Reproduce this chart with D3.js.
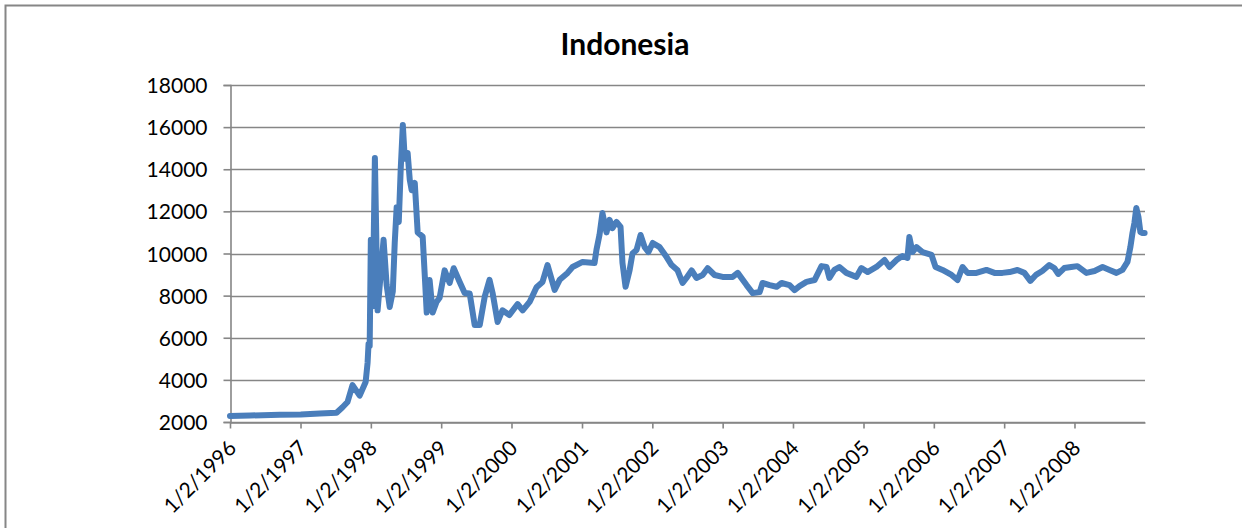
<!DOCTYPE html>
<html>
<head>
<meta charset="utf-8">
<script src="https://cdn.jsdelivr.net/npm/d3@7"></script>
<style>
  html, body { margin: 0; padding: 0; background: #fff; }
  svg { display: block; }
  text { font-family: Lato, "Open Sans", "Liberation Sans", sans-serif; fill: #000; }
</style>
</head>
<body>
<svg id="chart" width="1242" height="528"></svg>
<script>
// Indonesian rupiah per US dollar, 1996-2008
const chartTitle = "Indonesia";

const dates = [
  "1996-01-02","1996-04-15","1996-09-16","1997-01-03","1997-04-12","1997-07-08",
  "1997-08-08","1997-09-03","1997-09-29","1997-11-05","1997-12-06","1997-12-16",
  "1997-12-21","1997-12-27","1998-01-02","1998-01-12","1998-01-23","1998-02-06",
  "1998-02-22","1998-03-09","1998-03-25","1998-04-10","1998-04-26","1998-05-06",
  "1998-05-16","1998-05-27","1998-06-06","1998-06-17","1998-06-27","1998-07-12",
  "1998-07-23","1998-08-02","1998-08-18","1998-09-02","1998-09-28","1998-10-08",
  "1998-10-19","1998-11-03","1998-11-19","1998-12-09","1998-12-25","1999-01-20",
  "1999-02-15","1999-03-08","1999-04-08","1999-05-04","1999-05-30","1999-06-25",
  "1999-07-21","1999-08-16","1999-09-10","1999-09-26","1999-10-22","1999-11-16",
  "1999-12-22","2000-02-03","2000-02-29","2000-04-05","2000-05-11","2000-06-11",
  "2000-07-07","2000-08-13","2000-09-08","2000-10-19","2000-11-14","2001-01-05",
  "2001-03-08","2001-03-18","2001-04-03","2001-04-18","2001-05-09","2001-05-25",
  "2001-06-09","2001-06-30","2001-07-21","2001-07-31","2001-08-16","2001-09-06",
  "2001-09-21","2001-10-12","2001-11-02","2001-11-23","2001-12-13","2002-01-04",
  "2002-02-09","2002-03-17","2002-04-12","2002-05-13","2002-06-08","2002-06-28",
  "2002-07-25","2002-08-19","2002-09-20","2002-10-16","2002-11-21","2003-01-02",
  "2003-02-23","2003-03-21","2003-05-06","2003-06-07","2003-07-13","2003-07-28",
  "2003-09-03","2003-10-09","2003-11-04","2003-12-15","2004-01-10","2004-02-05",
  "2004-03-12","2004-04-23","2004-05-29","2004-06-24","2004-07-09","2004-08-04",
  "2004-08-30","2004-10-05","2004-11-26","2004-12-22","2005-01-23","2005-03-10",
  "2005-04-21","2005-05-17","2005-06-22","2005-07-23","2005-08-18","2005-08-28",
  "2005-09-13","2005-10-04","2005-11-04","2005-12-21","2006-01-11","2006-02-16",
  "2006-04-04","2006-05-05","2006-05-31","2006-06-26","2006-08-11","2006-10-02",
  "2006-11-13","2006-12-24","2007-01-30","2007-03-12","2007-04-17","2007-05-18",
  "2007-06-18","2007-07-19","2007-08-24","2007-09-19","2007-10-10","2007-11-10",
  "2007-12-16","2008-01-17","2008-03-04","2008-04-15","2008-05-27","2008-07-02",
  "2008-08-07","2008-09-07","2008-10-03","2008-10-18","2008-10-29","2008-11-08",
  "2008-11-18","2008-11-29","2008-12-09","2008-12-20","2008-12-31"
];

const rates = [
  2290, 2310, 2340, 2360, 2400, 2440,
  2700, 2950, 3750, 3250, 3900, 4800,
  5700, 5600, 10650, 7500, 14530, 7300,
  9000, 10650, 8500, 7460, 8200, 10500,
  12200, 11500, 14000, 16100, 14500, 14770,
  13500, 13000, 13350, 11000, 10800, 9100,
  7200, 8740, 7200, 7700, 7900, 9200,
  8600, 9300, 8650, 8120, 8100, 6600,
  6600, 7950, 8750, 8120, 6750, 7300,
  7080, 7600, 7300, 7700, 8400, 8650,
  9450, 8270, 8750, 9080, 9360, 9600,
  9550, 10170, 10900, 11920, 11000, 11600,
  11200, 11500, 11260, 9550, 8420, 9200,
  10000, 10170, 10880, 10300, 10070, 10500,
  10300, 9830, 9450, 9200, 8600, 8840,
  9200, 8840, 8980, 9300, 8980, 8890,
  8890, 9080, 8500, 8120, 8170, 8600,
  8500, 8420, 8600, 8500, 8260, 8450,
  8650, 8740, 9400, 9360, 8840, 9220,
  9360, 9080, 8890, 9310, 9120, 9360,
  9690, 9360, 9690, 9880, 9790, 10780,
  10070, 10300, 10070, 9930, 9360, 9220,
  8980, 8740, 9360, 9080, 9080, 9220,
  9080, 9080, 9120, 9220, 9080, 8700,
  9000, 9170, 9450, 9310, 9030, 9310,
  9360, 9400, 9080, 9170, 9360, 9220,
  9080, 9220, 9600, 10300, 10970, 11450,
  12160, 11740, 11020, 10970, 10970
];

const yTicks = [2000, 4000, 6000, 8000, 10000, 12000, 14000, 16000, 18000];
const xTickDates = ["1996-01-02","1997-01-02","1998-01-02","1999-01-02","2000-01-02",
  "2001-01-02","2002-01-02","2003-01-02","2004-01-02","2005-01-02","2006-01-02",
  "2007-01-02","2008-01-02"];
const xTickLabels = ["1/2/1996","1/2/1997","1/2/1998","1/2/1999","1/2/2000",
  "1/2/2001","1/2/2002","1/2/2003","1/2/2004","1/2/2005","1/2/2006",
  "1/2/2007","1/2/2008"];

const parse = d3.utcParse("%Y-%m-%d");
const series = dates.map((d, i) => ({ date: parse(d), value: rates[i] }));

const svg = d3.select("#chart");
const W = 1242, H = 528;
const plot = { left: 230, right: 1145, top: 85, bottom: 422 };
const gridColor = "#868686";

// outer chart frame (left and top edges fall inside the view)
svg.append("path")
  .attr("d", `M5.5,${H} L5.5,5.5 L${W},5.5`)
  .attr("fill", "none")
  .attr("stroke", gridColor)
  .attr("stroke-width", 2);

const x = d3.scaleUtc()
  .domain([parse("1996-01-02"), parse("2009-01-02")])
  .range([plot.left, plot.right]);

const y = d3.scaleLinear()
  .domain([2000, 18000])
  .range([plot.bottom, plot.top]);

// horizontal gridlines
svg.append("g")
  .selectAll("line")
  .data(yTicks)
  .join("line")
  .attr("x1", plot.left)
  .attr("x2", plot.right)
  .attr("y1", d => Math.round(y(d)) + 0.5)
  .attr("y2", d => Math.round(y(d)) + 0.5)
  .attr("stroke", gridColor)
  .attr("stroke-width", 1.6);

// y axis
const yAxis = d3.axisLeft(y)
  .tickValues(yTicks)
  .tickFormat(d3.format("d"))
  .tickSize(7)
  .tickPadding(16);

const gy = svg.append("g")
  .attr("transform", `translate(${plot.left + 0.5},0)`)
  .call(yAxis);
gy.select(".domain").attr("stroke", gridColor).attr("stroke-width", 1.6);
gy.selectAll(".tick line").attr("stroke", gridColor).attr("stroke-width", 1.6);
gy.selectAll(".tick text")
  .attr("font-size", 21)
  .attr("font-family", "Lato, sans-serif")
  .attr("dy", "0.36em");

// x axis with diagonal date labels
const xAxis = d3.axisBottom(x)
  .tickValues(xTickDates.map(parse))
  .tickFormat((d, i) => xTickLabels[i])
  .tickSize(6)
  .tickSizeOuter(0);

const gx = svg.append("g")
  .attr("transform", `translate(0,${plot.bottom + 0.5})`)
  .call(xAxis);
gx.select(".domain").attr("stroke", gridColor).attr("stroke-width", 1.6);
gx.selectAll(".tick line").attr("stroke", gridColor).attr("stroke-width", 1.6);
gx.selectAll(".tick text")
  .attr("font-size", 21)
  .attr("font-family", "Lato, sans-serif")
  .attr("text-anchor", "end")
  .attr("dy", null)
  .attr("y", 0)
  .attr("transform", "translate(7,27) rotate(-45)");

// exchange-rate line
const line = d3.line()
  .x(d => x(d.date))
  .y(d => y(d.value))
  .curve(d3.curveLinear);

svg.append("path")
  .datum(series)
  .attr("d", line)
  .attr("fill", "none")
  .attr("stroke", "#4A7EBB")
  .attr("stroke-width", 6)
  .attr("stroke-linejoin", "round")
  .attr("stroke-linecap", "round");

// title
svg.append("text")
  .attr("x", 625)
  .attr("y", 55)
  .attr("text-anchor", "middle")
  .attr("font-size", 30)
  .attr("font-weight", "bold")
  .attr("font-family", "Lato, sans-serif")
  .text(chartTitle);
</script>
</body>
</html>
